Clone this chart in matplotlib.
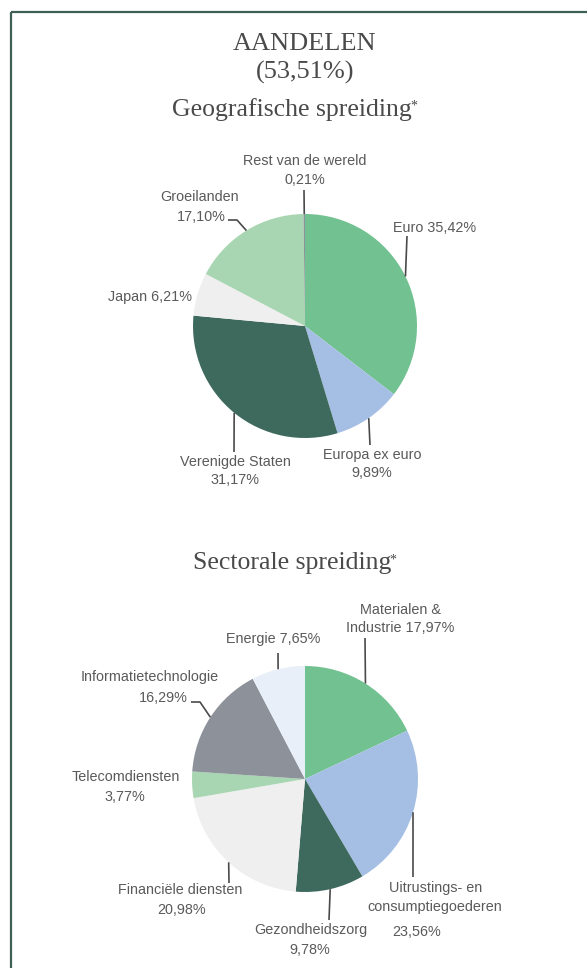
import numpy as np
import matplotlib.pyplot as plt

# data
geo_names = ["Euro", "Europa ex euro", "Verenigde Staten", "Japan", "Groeilanden", "Rest van de wereld"]
geo_values = [35.42, 9.89, 31.17, 6.21, 17.10, 0.21]
geo_colors = ["#72c190", "#a5bfe4", "#3e6a5e", "#efefef", "#a9d6b2", "#8d9199"]

sec_names = ["Materialen &\nIndustrie", "Uitrustings- en\nconsumptiegoederen", "Gezondheidszorg",
             "Financiële diensten", "Telecomdiensten", "Informatietechnologie", "Energie"]
sec_values = [17.97, 23.56, 9.78, 20.98, 3.77, 16.29, 7.65]
sec_colors = ["#72c190", "#a5bfe4", "#3e6a5e", "#efefef", "#a9d6b2", "#8d9199", "#e9eff8"]

total_pct = 53.51


def pct(v):
    return f"{v:.2f}".replace(".", ",") + "%"


SERIF = "Liberation Serif"
SANS = "Liberation Sans"
TXT = "#5a5a5a"
LINE = "#4a4a4a"

fig = plt.figure(figsize=(5.87, 9.68), dpi=100)
ax = fig.add_axes([0, 0, 1, 1])

# y axis runs downward, so the pies go clockwise with counterclock=True
geo_w, _ = ax.pie(geo_values, colors=geo_colors, startangle=-90, counterclock=True,
                  center=(305, 326), radius=112, wedgeprops=dict(linewidth=0))
sec_w, _ = ax.pie(sec_values, colors=sec_colors, startangle=-90, counterclock=True,
                  center=(305, 779), radius=113, wedgeprops=dict(linewidth=0))

ax.set_xlim(0, 587)
ax.set_ylim(968, 0)
ax.set_aspect("equal")
ax.axis("off")


def edge_point(w):
    a = np.deg2rad((w.theta1 + w.theta2) / 2)
    return w.center[0] + w.r * np.cos(a), w.center[1] + w.r * np.sin(a)


def leader(w, pts):
    x0, y0 = edge_point(w)
    xs = [x0] + [p[0] for p in pts]
    ys = [y0] + [p[1] for p in pts]
    ax.plot(xs, ys, color=LINE, lw=1.2, solid_capstyle="butt")


def lbl(s, x, y, ha="center"):
    ax.text(x, y, s, ha=ha, va="center", fontsize=10.4, color=TXT, family=SANS)


# titles
ax.text(305, 44, "AANDELEN", ha="center", va="center", fontsize=19, color="#4a4a4a", family=SERIF)
ax.text(305, 72, "(" + pct(total_pct) + ")", ha="center", va="center", fontsize=19,
        color="#4a4a4a", family=SERIF)
for s, y in [("Geografische spreiding", 110), ("Sectorale spreiding", 563)]:
    t = ax.text(292, y, s, ha="center", va="center", fontsize=18.5, color="#4a4a4a", family=SERIF)
    ax.annotate("*", xy=(1, 1), xycoords=t, xytext=(-1, -1), textcoords="offset points",
                ha="left", va="top", fontsize=10, color="#4a4a4a", family=SERIF)

# geografische labels
lbl(geo_names[0] + " " + pct(geo_values[0]), 435, 228)
leader(geo_w[0], [(407, 236)])
lbl(geo_names[1], 372, 455)
lbl(pct(geo_values[1]), 372, 473)
leader(geo_w[1], [(370, 445)])
lbl(geo_names[2], 235, 462)
lbl(pct(geo_values[2]), 235, 480)
leader(geo_w[2], [(234, 452)])
lbl(geo_names[3] + " " + pct(geo_values[3]), 192, 297, ha="right")
lbl(geo_names[4], 200, 197)
lbl(pct(geo_values[4]), 201, 217)
leader(geo_w[4], [(237, 220), (228, 220)])
lbl(geo_names[5], 305, 161)
lbl(pct(geo_values[5]), 305, 180)
leader(geo_w[5], [(304, 190)])

# sectorale labels
m1, m2 = sec_names[0].split("\n")
lbl(m1, 400, 610)
lbl(m2 + " " + pct(sec_values[0]), 400, 628)
leader(sec_w[0], [(365, 638)])
u1, u2 = sec_names[1].split("\n")
lbl(u1, 436, 888)
lbl(u2, 435, 907)
lbl(pct(sec_values[1]), 417, 932)
leader(sec_w[1], [(413, 877)])
lbl(sec_names[2], 311, 930)
lbl(pct(sec_values[2]), 310, 950)
leader(sec_w[2], [(329, 920)])
lbl(sec_names[3], 180, 890)
lbl(pct(sec_values[3]), 182, 910)
leader(sec_w[3], [(229, 883)])
lbl(sec_names[4], 126, 777)
lbl(pct(sec_values[4]), 125, 797)
lbl(sec_names[5], 150, 677)
lbl(pct(sec_values[5]), 188, 698, ha="right")
leader(sec_w[5], [(200, 702), (191, 702)])
lbl(sec_names[6] + " " + pct(sec_values[6]), 273, 639)
leader(sec_w[6], [(278, 653)])

# frame lines (top and left)
ax.plot([11, 587], [12, 12], color="#3d5f55", lw=1.6, solid_capstyle="butt")
ax.plot([11, 11], [12, 968], color="#3d5f55", lw=1.6, solid_capstyle="butt")

fig.savefig("out.png", dpi=100, facecolor="white")
